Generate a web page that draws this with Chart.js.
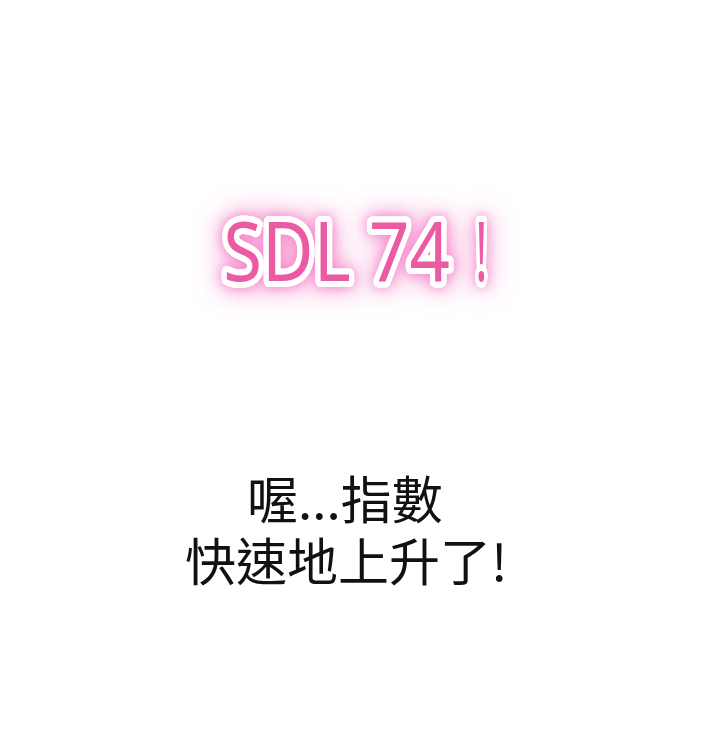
<!DOCTYPE html>
<html>
<head>
<meta charset="utf-8">
<script src="https://cdn.jsdelivr.net/npm/chart.js@4"></script>
<style>
  html, body { margin: 0; padding: 0; background: #fff; }
  #wrap { width: 720px; height: 733px; }
</style>
</head>
<body>
<div id="wrap"><canvas id="panel"></canvas></div>
<script>
// texts of the panel
const titleParts = ['SDL 74', '!'];
const captionLines = ['喔...指數', '快速地上升了!'];
// title parts: left edge / right edge and baseline, in axis units (0..100 both ways)
const titleLeft = [31.0, 66.0];
const titleRight = [62.5, 67.7];
const titleBase = [61.6, 61.6];
// caption: centre and middle of each line
const captionX = [47.9, 48.1];
const captionY = [31.8, 23.4];

const textPlugin = {
    id: 'panelText',
    afterDraw(chart) {
        const ctx = chart.ctx;
        const xs = chart.scales.x;
        const ys = chart.scales.y;
        ctx.save();

        // glowing pink title, squeezed to its measured width
        ctx.font = '400 82px "Noto Sans"';
        ctx.textAlign = 'left';
        ctx.textBaseline = 'alphabetic';
        ctx.lineJoin = 'round';
        titleParts.forEach(function (t, i) {
            const left = xs.getPixelForValue(titleLeft[i]);
            const right = xs.getPixelForValue(titleRight[i]);
            const base = ys.getPixelForValue(titleBase[i]);
            const sx = (right - left) / ctx.measureText(t).width;
            ctx.save();
            ctx.translate(left, base);
            ctx.scale(sx, 1);
            ctx.strokeStyle = '#ffffff';
            ctx.shadowColor = 'rgba(246, 130, 200, 0.95)';
            ctx.shadowBlur = 28;
            ctx.lineWidth = 12;
            ctx.strokeText(t, 0, 0);
            ctx.shadowBlur = 12;
            ctx.strokeText(t, 0, 0);
            ctx.shadowBlur = 0;
            ctx.strokeText(t, 0, 0);
            ctx.fillStyle = '#ea5ba4';
            ctx.fillText(t, 0, 0);
            ctx.restore();
        });

        // black caption
        ctx.font = '400 51px "Noto Sans CJK TC"';
        ctx.textAlign = 'center';
        ctx.textBaseline = 'middle';
        ctx.fillStyle = '#111111';
        captionLines.forEach(function (t, i) {
            ctx.fillText(t, xs.getPixelForValue(captionX[i]), ys.getPixelForValue(captionY[i]));
        });
        ctx.restore();
    }
};

document.addEventListener("DOMContentLoaded", function () {
    const ctx = document.getElementById('panel').getContext('2d');
    new Chart(ctx, {
        type: 'scatter',
        data: { datasets: [{ data: [] }] },
        options: {
            responsive: true,
            maintainAspectRatio: false,
            animation: false,
            layout: { padding: 0 },
            plugins: { legend: { display: false }, tooltip: { enabled: false } },
            scales: {
                x: { display: false, min: 0, max: 100 },
                y: { display: false, min: 0, max: 100 }
            }
        },
        plugins: [textPlugin]
    });
});
</script>
</body>
</html>
